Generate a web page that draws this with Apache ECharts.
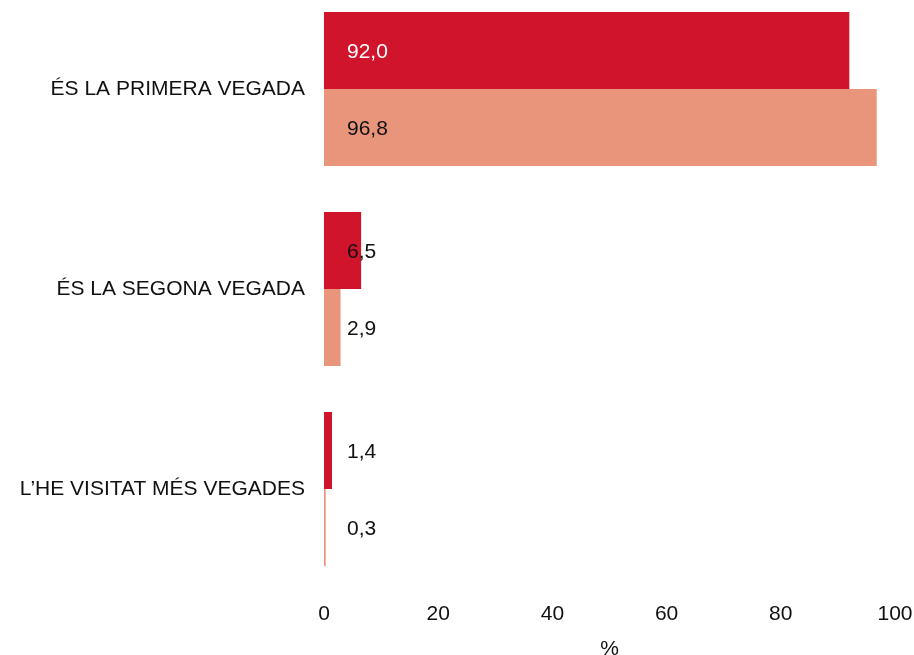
<!DOCTYPE html>
<html>
<head>
<meta charset="utf-8">
<script src="https://cdn.jsdelivr.net/npm/echarts@6/dist/echarts.min.js"></script>
<style>
  html, body { margin: 0; padding: 0; background: #fff; }
</style>
</head>
<body>
<div id="chart" style="width: 914px; height: 655px"></div>
<script>
var categories = ['ÉS LA PRIMERA VEGADA', 'ÉS LA SEGONA VEGADA', 'L\u2019HE VISITAT MÉS VEGADES']
var serieA = [92.0, 6.5, 1.4]
var serieB = [96.8, 2.9, 0.3]
var xTicks = [0, 20, 40, 60, 80, 100]

var chart = echarts.init(document.getElementById('chart'))

function fmt(p) {
  return p.value.toFixed(1).replace('.', ',')
}

var txt = { fontFamily: '"Liberation Sans", Arial, sans-serif', fontSize: 21, color: '#111' }

var labelBase = {
  show: true,
  position: [23, '50%'],
  verticalAlign: 'middle',
  offset: [0, 2],
  fontFamily: txt.fontFamily,
  fontSize: txt.fontSize,
  color: txt.color,
  formatter: fmt
}

var option = {
  animation: false,
  grid: {
    left: 324,
    right: 19,
    top: -11,
    bottom: 66,
    containLabel: false,
    outerBoundsMode: 'none'
  },
  xAxis: {
    type: 'value',
    min: xTicks[0],
    max: xTicks[xTicks.length - 1],
    interval: 20,
    name: '%',
    nameLocation: 'middle',
    nameGap: 50,
    nameTextStyle: txt,
    axisLine: { show: false },
    axisTick: { show: false },
    splitLine: { show: false },
    axisLabel: Object.assign({ margin: 15 }, txt)
  },
  yAxis: {
    type: 'category',
    data: categories,
    inverse: true,
    axisLine: { show: false },
    axisTick: { show: false },
    axisLabel: Object.assign({ margin: 19 }, txt)
  },
  series: [
    {
      type: 'bar',
      data: serieA.map(function (v, i) {
        return i === 0 ? { value: v, label: { color: '#fff' } } : v
      }),
      barGap: '0%',
      barCategoryGap: '23%',
      itemStyle: { color: '#D0142C' },
      label: labelBase
    },
    {
      type: 'bar',
      data: serieB,
      barGap: '0%',
      barCategoryGap: '23%',
      itemStyle: { color: '#E8957B' },
      label: labelBase
    }
  ]
}

chart.setOption(option)
</script>
</body>
</html>
